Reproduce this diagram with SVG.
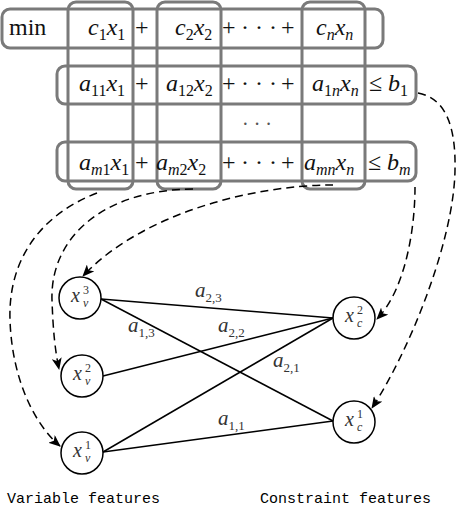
<svg xmlns="http://www.w3.org/2000/svg" width="456" height="508" viewBox="0 0 456 508">
<style>
.box{fill:none;stroke:#7a7a7a;stroke-width:3}
.m{font-family:"Liberation Serif","Times New Roman","DejaVu Serif",serif;font-size:24px;fill:#111}
.i{font-style:italic}
.s{font-size:16px}
.node{fill:#fff;stroke:#000;stroke-width:1.5}
.nl{font-family:"Liberation Serif","Times New Roman",serif;font-size:20px;fill:#333;font-style:italic}
.ns{font-family:"Liberation Serif","Times New Roman",serif;font-size:12px;fill:#333}
.edge{stroke:#000;stroke-width:1.5;fill:none}
.dash{stroke:#000;stroke-width:1.5;fill:none;stroke-dasharray:8 5;marker-end:url(#ah)}
.el{font-family:"Liberation Serif","Times New Roman",serif;font-size:21px;fill:#333;font-style:italic}
.es{font-family:"Liberation Serif","Times New Roman",serif;font-size:13px;fill:#333;font-style:normal}
.cap{font-family:"Liberation Mono",monospace;font-size:15px;fill:#000}
</style>
<defs>
<marker id="ah" viewBox="0 0 12 10" refX="11" refY="5" markerWidth="12" markerHeight="10" markerUnits="userSpaceOnUse" orient="auto">
<path d="M0,0 L12,5 L0,10 L3,5 z" fill="#000"/>
</marker>
</defs>

<g id="matrix-boxes">
<rect id="row-objective" class="box" x="2" y="9" width="381" height="39" rx="8"/>
<rect id="row-constraint-1" class="box" x="57" y="66" width="359" height="38" rx="8"/>
<rect id="row-constraint-m" class="box" x="57" y="142" width="359" height="39" rx="8"/>
<rect id="col-1" class="box" x="68" y="2" width="65" height="187" rx="8"/>
<rect id="col-2" class="box" x="157" y="2" width="64" height="187" rx="8"/>
<rect id="col-n" class="box" x="302" y="2" width="63" height="187" rx="8"/>
</g>

<g id="objective-text" class="m">
<text x="9" y="35">min</text>
<text x="88" y="35"><tspan class="i">c</tspan><tspan class="s" dy="5">1</tspan><tspan class="i" dy="-5">x</tspan><tspan class="s" dy="5">1</tspan></text>
<text x="135" y="35">+</text>
<text x="175" y="35"><tspan class="i">c</tspan><tspan class="s" dy="5">2</tspan><tspan class="i" dy="-5">x</tspan><tspan class="s" dy="5">2</tspan></text>
<text x="222" y="35">+</text>
<text x="241" y="35">· · ·</text>
<text x="281" y="35">+</text>
<text x="316" y="35"><tspan class="i">c</tspan><tspan class="s i" dy="5">n</tspan><tspan class="i" dy="-5">x</tspan><tspan class="s i" dy="5">n</tspan></text>
</g>

<g id="constraint-1-text" class="m">
<text x="79" y="91"><tspan class="i">a</tspan><tspan class="s" dy="5">11</tspan><tspan class="i" dy="-5">x</tspan><tspan class="s" dy="5">1</tspan></text>
<text x="135" y="91">+</text>
<text x="166" y="91"><tspan class="i">a</tspan><tspan class="s" dy="5">12</tspan><tspan class="i" dy="-5">x</tspan><tspan class="s" dy="5">2</tspan></text>
<text x="222" y="91">+</text>
<text x="241" y="91">· · ·</text>
<text x="281" y="91">+</text>
<text x="312" y="91"><tspan class="i">a</tspan><tspan class="s" dy="5">1</tspan><tspan class="s i">n</tspan><tspan class="i" dy="-5">x</tspan><tspan class="s i" dy="5">n</tspan></text>
<text x="369" y="91">≤</text>
<text x="388" y="91"><tspan class="i">b</tspan><tspan class="s" dy="5">1</tspan></text>
</g>

<g id="row-dots" class="m">
<text x="242" y="131" style="font-size:20px;fill:#555">· · ·</text>
</g>

<g id="constraint-m-text" class="m">
<text x="79" y="170"><tspan class="i">a</tspan><tspan class="s i" dy="5">m</tspan><tspan class="s">1</tspan><tspan class="i" dy="-5">x</tspan><tspan class="s" dy="5">1</tspan></text>
<text x="135" y="170">+</text>
<text x="156" y="170"><tspan class="i">a</tspan><tspan class="s i" dy="5">m</tspan><tspan class="s">2</tspan><tspan class="i" dy="-5">x</tspan><tspan class="s" dy="5">2</tspan></text>
<text x="222" y="170">+</text>
<text x="241" y="170">· · ·</text>
<text x="281" y="170">+</text>
<text x="304" y="170"><tspan class="i">a</tspan><tspan class="s i" dy="5">mn</tspan><tspan class="i" dy="-5">x</tspan><tspan class="s i" dy="5">n</tspan></text>
<text x="368" y="170">≤</text>
<text x="387" y="170"><tspan class="i">b</tspan><tspan class="s i" dy="5">m</tspan></text>
</g>

<g id="connectors">
<line class="edge" x1="101" y1="299" x2="333" y2="318"/>
<line class="edge" x1="101" y1="299" x2="333" y2="421"/>
<line class="edge" x1="103" y1="376" x2="333" y2="318"/>
<line class="edge" x1="103" y1="452" x2="333" y2="318"/>
<line class="edge" x1="103" y1="452" x2="333" y2="421"/>
<path class="dash" d="M418,93 C445,98 456,125 455,170 C454,240 410,350 372,408"/>
<path class="dash" d="M415,187 C415,230 405,290 377,319"/>
<path class="dash" d="M333,185 C250,185 140,215 83,276"/>
<path class="dash" d="M193,189 C100,190 50,240 52,300 C53,330 55,350 59,369"/>
<path class="dash" d="M97,193 C40,215 8,260 10,320 C12,380 35,425 60,446"/>
</g>

<g id="edge-labels">
<text x="195" y="297" class="el">a<tspan class="es" dy="5">2,3</tspan></text>
<text x="128" y="332" class="el">a<tspan class="es" dy="5">1,3</tspan></text>
<text x="218" y="332" class="el">a<tspan class="es" dy="5">2,2</tspan></text>
<text x="273" y="367" class="el">a<tspan class="es" dy="5">2,1</tspan></text>
<text x="218" y="425" class="el">a<tspan class="es" dy="5">1,1</tspan></text>
</g>

<g id="node-xv3">
<circle class="node" cx="80" cy="298" r="21"/>
<text class="nl" x="71" y="302">x</text><text class="ns" x="83" y="294">3</text><text class="ns" x="83" y="307" font-style="italic">v</text>
</g>
<g id="node-xv2">
<circle class="node" cx="82" cy="376" r="21"/>
<text class="nl" x="73" y="380">x</text><text class="ns" x="85" y="372">2</text><text class="ns" x="85" y="385" font-style="italic">v</text>
</g>
<g id="node-xv1">
<circle class="node" cx="82" cy="453" r="21"/>
<text class="nl" x="73" y="457">x</text><text class="ns" x="85" y="449">1</text><text class="ns" x="85" y="462" font-style="italic">v</text>
</g>
<g id="node-xc2">
<circle class="node" cx="354" cy="318" r="21"/>
<text class="nl" x="345" y="322">x</text><text class="ns" x="357" y="314">2</text><text class="ns" x="357" y="327" font-style="italic">c</text>
</g>
<g id="node-xc1">
<circle class="node" cx="354" cy="422" r="21"/>
<text class="nl" x="345" y="426">x</text><text class="ns" x="357" y="418">1</text><text class="ns" x="357" y="431" font-style="italic">c</text>
</g>

<g id="captions">
<text class="cap" x="7" y="503">Variable features</text>
<text class="cap" x="260" y="503">Constraint features</text>
</g>
</svg>
